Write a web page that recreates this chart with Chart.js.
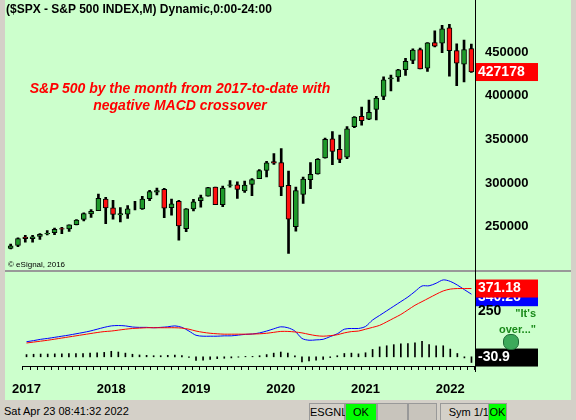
<!DOCTYPE html>
<html>
<head>
<meta charset="utf-8" />
<title>S&amp;P 500 monthly</title>
<script src="https://cdn.jsdelivr.net/npm/chart.js@4.4.1/dist/chart.umd.min.js"></script>
<style>
  body { margin:0; width:576px; height:420px; background:#d4d0c8; position:relative; overflow:hidden; font-family:Arial, "Liberation Sans", sans-serif; }
  .panel { position:absolute; left:5px; width:566px; background:#ccffcc; }
  canvas { position:absolute; left:0; }
  .note { position:absolute; color:#ff0000; font:italic bold 14px Arial, "Liberation Sans"; text-align:center; width:320px; line-height:17px; }
  .status { position:absolute; top:402px; height:18px; font:11px Arial, "Liberation Sans"; line-height:18px; }
  .box { position:absolute; top:403px; height:16px; border:1px solid #999; background:#c8c4bc; font:11px Arial; line-height:16px; text-align:center; }
</style>
</head>
<body>
<div class="panel" style="top:0;height:270px;border-bottom:2px solid #999"></div>
<div class="panel" style="top:272px;height:128px"></div>
<div style="position:absolute;left:475px;top:0;width:1px;height:372px;background:#000"></div>
<canvas id="price" width="576" height="270" style="top:0"></canvas>
<canvas id="macd" width="576" height="130" style="top:270px"></canvas>
<div style="position:absolute;left:6px;top:2px;font:bold 12px Arial, 'Liberation Sans'">($SPX - S&amp;P 500 INDEX,M) Dynamic,0:00-24:00</div>
<div class="note" style="left:20px;top:80px">S&amp;P 500 by the month from 2017-to-date with<br>negative MACD crossover</div>
<div style="position:absolute;left:8px;top:260px;font:8px Arial">© eSignal, 2016</div>
<div style="position:absolute;left:470px;top:305px;color:#1a8a1a;font:bold 11px Arial;text-align:right;width:66px;line-height:16px">"It's<br>over..."</div>
<div style="position:absolute;left:503px;top:334px;width:14px;height:14px;border-radius:7px;background:#3caa5a;border:1px solid #1d6a35"></div>
<div class="status" style="left:4px">Sat Apr 23 08:41:32 2022</div>
<div class="box" style="left:309px;width:34px;background:#d4d0c8;text-align:left">ESGNL:</div>
<div class="box" style="left:345px;width:30px;background:#00ff00">OK</div>
<div class="box" style="left:377px;width:29px"></div>
<div class="box" style="left:408px;width:27px"></div>
<div class="box" style="left:440px;width:48px;background:#d4d0c8;text-align:right">Sym 1/1</div>
<div class="box" style="left:488px;width:17px;background:#00ff00">OK</div>
<script>
const months = [];
for (let y = 2017; y <= 2022; y++) for (let m = 1; m <= 12; m++) if (y < 2022 || m <= 4) months.push(y + '-' + m);

const opens  = [2251,2285,2381,2363,2388,2415,2431,2477,2474,2521,2583,2645, 2683,2816,2715,2633,2643,2718,2704,2821,2896,2926,2717,2790, 2476,2702,2798,2848,2952,2751,2971,2980,2910,2983,3050,3143, 3244,3235,2974,2499,2869,3038,3105,3288,3507,3385,3296,3645, 3764,3731,3842,3992,4192,4217,4300,4406,4528,4317,4610,4602, 4778,4519,4363,4540];
const highs  = [2300,2371,2401,2399,2419,2454,2484,2491,2520,2582,2657,2695, 2873,2835,2801,2718,2742,2791,2848,2917,2941,2940,2815,2800, 2708,2813,2860,2949,2954,2964,3028,3014,3022,3050,3154,3248, 3337,3394,3136,2954,3068,3233,3280,3515,3588,3550,3646,3760, 3870,3950,3994,4218,4238,4302,4429,4537,4546,4608,4744,4808, 4819,4595,4637,4593];
const lows   = [2245,2271,2323,2322,2353,2405,2407,2418,2446,2520,2566,2605, 2682,2533,2585,2553,2594,2691,2698,2796,2864,2603,2631,2346, 2443,2681,2722,2848,2751,2729,2952,2822,2892,2855,3050,3070, 3214,2855,2192,2447,2767,2936,3101,3284,3210,3234,3280,3633, 3662,3725,3723,3955,4056,4165,4234,4367,4306,4279,4560,4495, 4223,4115,4157,4267];
const closes = [2279,2364,2363,2384,2412,2423,2470,2472,2519,2575,2648,2674, 2824,2714,2641,2648,2705,2718,2816,2902,2914,2711,2760,2507, 2704,2784,2834,2946,2752,2942,2980,2926,2977,3038,3141,3231, 3226,2954,2585,2912,3044,3100,3271,3500,3363,3270,3622,3756, 3714,3811,3973,4181,4204,4298,4395,4523,4308,4605,4567,4766, 4516,4374,4530,4271.78];
const priceTicks = [2500, 3000, 3500, 4000, 4500];

const macdLine = [82,88,95,100,106,112,118,125,132,140,150,160, 168,170,168,162,160,160,158,160,163,168,160,140, 117,112,112,112,114,114,118,122,124,130,140,152, 163,158,140,100,90,92,95,110,125,150,154,154, 165,200,225,250,275,300,325,355,385,386,400,418, 410,390,365,340.26];
const signalLine = [75,80,85,90,96,102,108,114,120,126,132,137, 140,145,150,154,156,158,158,158,158,158,156,150, 140,133,128,125,123,123,123,123,124,125,128,133, 138,138,135,130,122,115,112,115,120,130,137,140, 150,160,171,190,210,230,255,280,300,320,340,358, 368,371,371,371.18];
const histogram = [12,14,15,15,16,16,17,18,18,20,22,24, 30,26,20,14,10,8,6,6,8,10,6,-4, -20,-18,-14,-10,-8,-6,-2,2,2,6,12,20, 26,20,5,-28,-22,-18,-14,-4,6,18,20,16, 22,40,54,60,66,70,72,76,84,66,60,60, 42,18,-6,-30.9];

const GREEN = '#1e9a2a', RED = '#ff1010';
const bodyColors = opens.map((o, i) => closes[i] >= o ? GREEN : RED);

function fixWidth(s) { s.width = 101; }

const boxLabel = {
  id: 'boxLabel',
  afterDraw(chart) {
    const items = chart.options.plugins.boxLabel.items || [];
    const ctx = chart.ctx, ys = chart.scales.y;
    ctx.save();
    ctx.font = 'bold 14px Arial, "Liberation Sans"';
    ctx.textBaseline = 'middle';
    items.forEach(it => {
      const y = ys.getPixelForValue(it.v) + (it.dy || 0);
      if (it.bg) { ctx.fillStyle = it.bg; ctx.fillRect(476, y - 9, 62, 18); }
      ctx.fillStyle = it.fg;
      ctx.fillText(it.t, 478, y);
    });
    ctx.restore();
  }
};

new Chart(document.getElementById('price'), {
  type: 'bar',
  data: {
    labels: months,
    datasets: [
      { data: lows.map((l, i) => [l, highs[i]]), backgroundColor: '#000', barThickness: 2, grouped: false, order: 2 },
      { data: opens.map((o, i) => [o, closes[i]]), backgroundColor: bodyColors, borderColor: '#000', borderWidth: 1, borderSkipped: false, barThickness: 5, grouped: false, order: 1 }
    ]
  },
  options: {
    responsive: false, animation: false,
    layout: { padding: { left: 7, top: 3, bottom: 2 } },
    plugins: { legend: { display: false }, tooltip: { enabled: false },
      boxLabel: { items: [{ v: closes[closes.length - 1], t: '427178', bg: '#ff0000', fg: '#fff' }] } },
    scales: {
      x: { display: false },
      y: {
        position: 'right', min: 2115, max: 4985, afterFit: fixWidth,
        afterBuildTicks: s => { s.ticks = priceTicks.map(v => ({ value: v })); },
        grid: { display: false }, border: { display: false },
        ticks: { color: '#000', font: { size: 13, weight: 'bold', family: 'Arial' }, padding: 2, callback: v => v * 100 }
      }
    }
  },
  plugins: [boxLabel]
});

new Chart(document.getElementById('macd'), {
  type: 'bar',
  data: {
    labels: months,
    datasets: [
      { type: 'line', data: signalLine, borderColor: '#ff0000', borderWidth: 1, pointRadius: 0, tension: 0.3 },
      { type: 'line', data: macdLine, borderColor: '#0000ff', borderWidth: 1, pointRadius: 0, tension: 0.3 },
      { data: histogram, backgroundColor: '#000', barThickness: 1 }
    ]
  },
  options: {
    responsive: false, animation: false,
    layout: { padding: { left: 7, top: 2 } },
    plugins: { legend: { display: false }, tooltip: { enabled: false },
      boxLabel: { items: [
        { v: 340.26, t: '340.26', bg: '#0000ff', fg: '#fff', dy: 3 },
        { v: 371.18, t: '371.18', bg: '#ff0000', fg: '#fff' },
        { v: 250, t: '250', fg: '#000' },
        { v: -4, t: '-30.9', bg: '#000', fg: '#fff' }
      ] } },
    scales: {
      x: {
        afterFit: s => { s.height = 34; },
        grid: { drawOnChartArea: false, color: '#000', tickLength: 4 },
        border: { color: '#000' },
        ticks: { autoSkip: false, maxRotation: 0, padding: 12, color: '#000',
          font: { size: 13, weight: 'bold', family: 'Arial' },
          callback: function (v) { const l = this.getLabelForValue(v); return l.endsWith('-1') ? l.slice(0, 4) : ''; } }
      },
      y: { position: 'right', min: -50, max: 461, afterFit: fixWidth,
        grid: { display: false }, border: { display: false }, ticks: { display: false } }
    }
  },
  plugins: [boxLabel]
});
</script>
</body>
</html>
